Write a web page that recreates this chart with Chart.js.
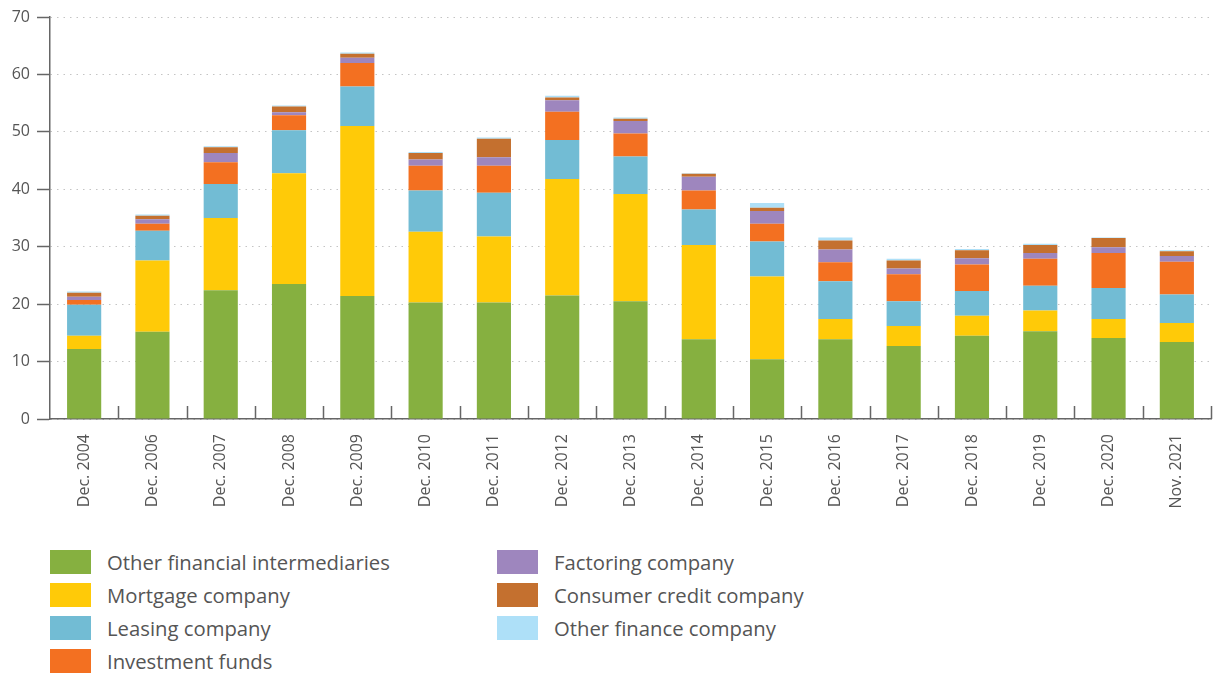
<!DOCTYPE html>
<html>
<head>
<meta charset="utf-8">
<script src="https://cdn.jsdelivr.net/npm/chart.js@4.4.0/dist/chart.umd.min.js"></script>
<style>
  body { margin: 0; background: #fff; font-family: "Open Sans", sans-serif; }
  #wrap { position: relative; width: 1213px; height: 677px; }
  #box { position: absolute; left: 0; top: 0; width: 1213px; height: 530px; }
  #legend {
    position: absolute; left: 50px; top: 546px;
    display: grid; grid-auto-flow: column;
    grid-template-rows: repeat(4, 32.8px); grid-template-columns: 447px auto;
  }
  .item { display: flex; align-items: center; color: #555; font-size: 20.3px; }
  .swatch { width: 41px; height: 24px; margin-right: 16px; }
</style>
</head>
<body>
<div id="wrap">
  <div id="box"><canvas id="barChart"></canvas></div>
  <div id="legend"></div>
</div>
<script>
const categories = ['Dec. 2004', 'Dec. 2006', 'Dec. 2007', 'Dec. 2008', 'Dec. 2009', 'Dec. 2010',
  'Dec. 2011', 'Dec. 2012', 'Dec. 2013', 'Dec. 2014', 'Dec. 2015', 'Dec. 2016', 'Dec. 2017',
  'Dec. 2018', 'Dec. 2019', 'Dec. 2020', 'Nov. 2021'];

const otherIntermediaries = [12.2, 15.2, 22.4, 23.5, 21.4, 20.3, 20.3, 21.5, 20.5, 13.9, 10.4, 13.9, 12.7, 14.5, 15.3, 14.1, 13.4];
const mortgage = [2.3, 12.4, 12.6, 19.3, 29.6, 12.3, 11.5, 20.3, 18.7, 16.4, 14.4, 3.5, 3.5, 3.5, 3.6, 3.3, 3.3];
const leasing = [5.4, 5.2, 5.9, 7.5, 6.9, 7.2, 7.6, 6.8, 6.5, 6.2, 6.1, 6.6, 4.3, 4.3, 4.3, 5.4, 5.0];
const investmentFunds = [0.8, 1.2, 3.8, 2.6, 4.1, 4.3, 4.7, 4.9, 4.0, 3.3, 3.1, 3.3, 4.7, 4.6, 4.7, 6.1, 5.7];
const factoring = [0.6, 0.8, 1.6, 0.5, 0.9, 1.1, 1.5, 2.0, 2.2, 2.4, 2.2, 2.2, 1.0, 1.1, 1.0, 1.0, 1.0];
const consumerCredit = [0.7, 0.6, 1.0, 1.0, 0.7, 1.1, 3.2, 0.5, 0.4, 0.5, 0.6, 1.6, 1.4, 1.4, 1.4, 1.6, 0.8];
const otherFinance = [0.2, 0.2, 0.2, 0.2, 0.2, 0.2, 0.2, 0.3, 0.2, 0.1, 0.8, 0.5, 0.3, 0.2, 0.2, 0.1, 0.2];

const seriesNames = ['Other financial intermediaries', 'Mortgage company', 'Leasing company',
  'Investment funds', 'Factoring company', 'Consumer credit company', 'Other finance company'];
const seriesData = [otherIntermediaries, mortgage, leasing, investmentFunds, factoring, consumerCredit, otherFinance];
const seriesColors = ['#86b040', '#ffca08', '#72bcd4', '#f37021', '#9e86be', '#c4702f', '#aee0f8'];

const yMin = 0, yMax = 70, yStep = 10;

// small upward tick marks on the x axis, between the categories
const upTicks = {
  id: 'upTicks',
  afterDraw(chart) {
    const xs = chart.scales.x;
    const bottom = chart.chartArea.bottom;
    const ctx = chart.ctx;
    ctx.save();
    ctx.strokeStyle = '#666';
    ctx.lineWidth = 1.5;
    ctx.beginPath();
    for (let i = 1; i <= categories.length; i++) {
      const px = Math.round((xs.getPixelForValue(i - 1) + xs.getPixelForValue(i)) / 2) + 0.5;
      ctx.moveTo(px, bottom);
      ctx.lineTo(px, bottom - 13);
    }
    ctx.stroke();
    ctx.restore();
  }
};

const ctx = document.getElementById('barChart').getContext('2d');
new Chart(ctx, {
  type: 'bar',
  data: {
    labels: categories,
    datasets: seriesNames.map((name, i) => ({
      label: name,
      data: seriesData[i],
      backgroundColor: seriesColors[i],
      borderWidth: 0,
      barPercentage: 0.5,
      categoryPercentage: 1
    }))
  },
  options: {
    responsive: true,
    maintainAspectRatio: false,
    animation: false,
    layout: { padding: { top: 17, right: 2, left: 0, bottom: 0 } },
    plugins: { legend: { display: false }, tooltip: { enabled: false } },
    scales: {
      x: {
        stacked: true,
        grid: { display: false, drawTicks: false },
        border: { display: true, color: '#666', width: 1.5 },
        ticks: {
          color: '#555', font: { family: 'Open Sans', size: 16 },
          minRotation: 90, maxRotation: 90, padding: 15, autoSkip: false
        },
        afterFit(scale) { scale.height = 111; }
      },
      y: {
        stacked: true,
        min: yMin, max: yMax,
        grid: {
          color: '#c4c4c4', lineWidth: 1,
          tickLength: 13, tickColor: '#666', tickWidth: 1.5, tickBorderDash: []
        },
        border: { display: true, color: '#666', width: 1.5, dash: [1.5, 5] },
        ticks: {
          stepSize: yStep, color: '#555', padding: 7,
          font: { family: 'Open Sans', size: 16 }
        },
        afterFit(scale) { scale.width = 50; }
      }
    }
  },
  plugins: [upTicks]
});

// legend
const legend = document.getElementById('legend');
seriesNames.forEach((name, i) => {
  const item = document.createElement('div');
  item.className = 'item';
  const sw = document.createElement('span');
  sw.className = 'swatch';
  sw.style.background = seriesColors[i];
  item.appendChild(sw);
  item.appendChild(document.createTextNode(name));
  legend.appendChild(item);
});
</script>
</body>
</html>
